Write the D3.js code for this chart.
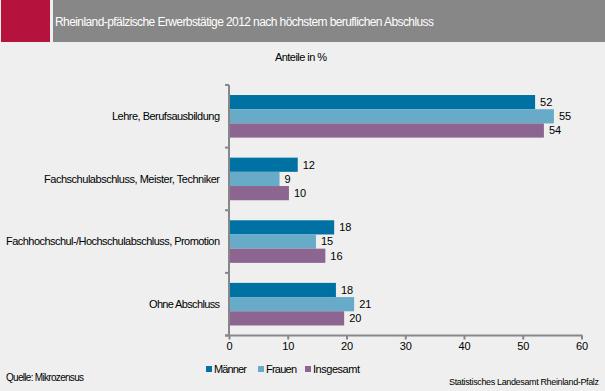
<!DOCTYPE html>
<html>
<head>
<meta charset="utf-8">
<script src="https://cdn.jsdelivr.net/npm/d3@7"></script>
<style>
  body { margin: 0; background: #eeefee; }
  svg { display: block; font-family: "Liberation Sans", Arial, sans-serif; }
</style>
</head>
<body>
<div id="chart"></div>
<script>
// categories (top to bottom)
const categories = [
    "Lehre, Berufsausbildung",
    "Fachschulabschluss, Meister, Techniker",
    "Fachhochschul-/Hochschulabschluss, Promotion",
    "Ohne Abschluss"
];
const seriesNames = ["Männer", "Frauen", "Insgesamt"];
const maenner = [52.1, 11.7, 17.9, 18.2];
const frauen = [55.3, 8.6, 14.8, 21.3];
const insgesamt = [53.6, 10.2, 16.4, 19.6];
const xTicks = [0, 10, 20, 30, 40, 50, 60];

const colors = { "Männer": "#0071a3", "Frauen": "#67abc9", "Insgesamt": "#8c6690" };
const seriesValues = { "Männer": maenner, "Frauen": frauen, "Insgesamt": insgesamt };

const width = 605, height = 391;
const axisColor = "#878787";

const svg = d3.select("#chart").append("svg")
    .attr("width", width)
    .attr("height", height);

svg.append("rect").attr("width", width).attr("height", height).attr("fill", "#eeefee");

// header
svg.append("rect").attr("x", 1).attr("y", 0).attr("width", 49).attr("height", 42).attr("fill", "#b5123e");
svg.append("rect").attr("x", 53).attr("y", 0).attr("width", width - 53).attr("height", 42).attr("fill", "#878787");
svg.append("text")
    .attr("x", 55).attr("y", 25.5)
    .attr("fill", "#fff")
    .style("font-size", "12px")
    .attr("textLength", 379)
    .text("Rheinland-pfälzische Erwerbstätige 2012 nach höchstem beruflichen Abschluss");

svg.append("text")
    .attr("x", 275).attr("y", 61)
    .style("font-size", "11px")
    .attr("textLength", 52)
    .text("Anteile in %");

// scales
const x = d3.scaleLinear().domain([0, 60]).range([229, 581.5]);
const y0 = d3.scaleBand().domain(categories).range([85, 335.5])
    .paddingInner(0.32).paddingOuter(0.16);
const y1 = d3.scaleBand().domain(seriesNames).range([0, y0.bandwidth()]);

const rows = categories.map((c, i) => ({
    cat: c,
    vals: seriesNames.map(s => ({ key: s, value: seriesValues[s][i] }))
}));

const groups = svg.append("g").selectAll("g")
    .data(rows).join("g")
    .attr("transform", d => `translate(0,${y0(d.cat)})`);

groups.selectAll("rect")
    .data(d => d.vals).join("rect")
    .attr("x", x(0))
    .attr("y", d => y1(d.key))
    .attr("width", d => x(d.value) - x(0))
    .attr("height", y1.bandwidth())
    .attr("fill", d => colors[d.key]);

groups.selectAll("text.val")
    .data(d => d.vals).join("text")
    .attr("class", "val")
    .attr("x", d => x(d.value) + 5)
    .attr("y", d => y1(d.key) + y1.bandwidth() / 2)
    .attr("dy", "0.35em")
    .style("font-size", "11px")
    .text(d => d3.format(".0f")(d.value));

// category labels
const labelWidths = [108, 176, 214, 71];
svg.append("g").selectAll("text")
    .data(categories).join("text")
    .attr("x", 220)
    .attr("y", d => y0(d) + y0.bandwidth() / 2)
    .attr("dy", "0.35em")
    .attr("text-anchor", "end")
    .style("font-size", "11px")
    .attr("textLength", (d, i) => labelWidths[i])
    .text(d => d);

// y axis line with ticks at band boundaries
const yTop = y0.range()[0], yBottom = y0.range()[1];
svg.append("line")
    .attr("x1", x(0)).attr("x2", x(0))
    .attr("y1", yTop).attr("y2", yBottom)
    .attr("stroke", axisColor).attr("stroke-width", 2);
svg.append("g").selectAll("line")
    .data(d3.range(categories.length + 1)).join("line")
    .attr("x1", x(0) - 4).attr("x2", x(0))
    .attr("y1", i => yTop + i * y0.step())
    .attr("y2", i => yTop + i * y0.step())
    .attr("stroke", axisColor).attr("stroke-width", 2);

// x axis
const xAxisG = svg.append("g")
    .attr("transform", `translate(0,${yBottom})`)
    .call(d3.axisBottom(x).tickValues(xTicks).tickSize(4).tickSizeOuter(0).tickPadding(3));
xAxisG.select(".domain").remove();
xAxisG.selectAll(".tick line").attr("stroke", axisColor).attr("stroke-width", 2);
xAxisG.selectAll(".tick text")
    .style("font-size", "11px")
    .style("font-family", "\"Liberation Sans\", Arial, sans-serif")
    .attr("fill", "#000");
svg.append("line")
    .attr("x1", x(0) - 4).attr("x2", x(60) + 1)
    .attr("y1", yBottom).attr("y2", yBottom)
    .attr("stroke", axisColor).attr("stroke-width", 2);

// legend
const legendX = [206, 258, 305];
const legendW = [33, 31, 47];
const legend = svg.append("g").selectAll("g")
    .data(seriesNames).join("g")
    .attr("transform", (d, i) => `translate(${legendX[i]},369)`);
legend.append("rect")
    .attr("x", 0).attr("y", -3)
    .attr("width", 6).attr("height", 6)
    .attr("fill", d => colors[d]);
legend.append("text")
    .attr("x", 8).attr("dy", "0.35em")
    .style("font-size", "11px")
    .attr("textLength", (d, i) => legendW[i])
    .text(d => d);

// footer
svg.append("text")
    .attr("x", 6).attr("y", 380.5)
    .style("font-size", "10px")
    .attr("textLength", 78)
    .text("Quelle: Mikrozensus");
svg.append("text")
    .attr("x", 599).attr("y", 385)
    .attr("text-anchor", "end")
    .style("font-size", "9px")
    .attr("textLength", 150)
    .text("Statistisches Landesamt Rheinland-Pfalz");
</script>
</body>
</html>
